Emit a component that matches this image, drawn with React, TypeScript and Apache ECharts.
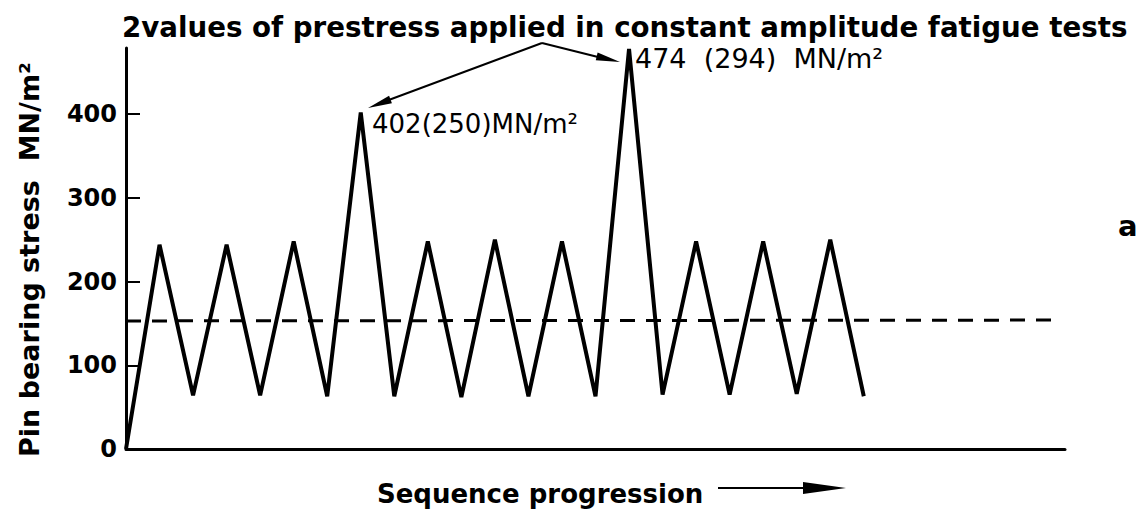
import React, { useEffect, useRef } from "react";
import * as echarts from "echarts";

// Sequence position (half-cycle index) and pin bearing stress (MN/m²)
const seqIndex = [0, 1, 2, 3, 4, 5, 6, 7, 8, 9, 10, 11, 12, 13, 14, 15, 16, 17, 18, 19, 20, 21, 22];
const stress = [0, 244, 64, 244, 64, 248, 63, 402, 63, 248, 62, 250, 63, 248, 63, 478, 65, 248, 65, 248, 66, 250, 63];

// Dashed reference (mean) level
const meanX = [0, 27.8];
const meanStress = [153, 154];

const yTicks = [0, 100, 200, 300, 400];
const yTickMarks = [100, 200, 300, 400];

const titleText = "2values of prestress applied in constant amplitude fatigue tests";
const yName = "Pin bearing stress  MN/m²";
const xName = "Sequence progression";
const note1 = "402(250)MN/m²";
const note2 = "474  (294)  MN/m²";
const panelLetter = "a";

const FONT = "DejaVu Sans";

function arrowHead(tx: number, ty: number, fx: number, fy: number, len: number, half: number) {
  const dx = tx - fx;
  const dy = ty - fy;
  const L = Math.hypot(dx, dy);
  const ux = dx / L;
  const uy = dy / L;
  const bx = tx - ux * len;
  const by = ty - uy * len;
  return [
    [tx, ty],
    [bx - uy * half, by + ux * half],
    [bx + uy * half, by - ux * half],
  ];
}

export default function App() {
  const ref = useRef<HTMLDivElement>(null);

  useEffect(() => {
    if (!ref.current) return;
    const chart = echarts.init(ref.current, undefined, { renderer: "svg" });

    const apex = [542, 43];
    const tipL = [368, 108];
    const tipR = [620, 62];

    const option: any = {
      animation: false,
      backgroundColor: "#ffffff",
      title: {
        text: titleText,
        left: 122,
        top: 13,
        padding: 0,
        textStyle: {
          fontFamily: FONT,
          fontSize: 27.7,
          lineHeight: 28,
          fontWeight: "bold",
          color: "#000",
        },
      },
      grid: { left: 126, right: 78, top: 48, bottom: 62 },
      xAxis: {
        type: "value",
        min: 0,
        max: 28,
        axisLine: { show: true, onZero: false, lineStyle: { color: "#000", width: 3 } },
        axisTick: { show: false },
        axisLabel: { show: false },
        splitLine: { show: false },
      },
      yAxis: {
        type: "value",
        min: 0,
        max: 479,
        name: yName,
        nameLocation: "middle",
        nameGap: 83,
        nameTextStyle: {
          fontFamily: FONT,
          fontSize: 27,
          fontWeight: "bold",
          color: "#000",
          padding: [0, 22, 0, 0],
        },
        axisLine: { show: true, lineStyle: { color: "#000", width: 3 } },
        axisTick: {
          show: true,
          inside: true,
          length: 14,
          customValues: yTickMarks,
          lineStyle: { color: "#000", width: 2 },
        },
        axisLabel: {
          customValues: yTicks,
          margin: 9,
          fontFamily: FONT,
          fontSize: 24,
          fontWeight: "bold",
          color: "#000",
        },
        splitLine: { show: false },
      },
      series: [
        {
          type: "line",
          data: seqIndex.map((x, i) => [x, stress[i]]),
          symbol: "none",
          clip: false,
          lineStyle: { color: "#000", width: 4 },
          z: 3,
        },
        {
          type: "line",
          data: meanX.map((x, i) => [x, meanStress[i]]),
          symbol: "none",
          clip: false,
          lineStyle: { color: "#000", width: 3, type: [15, 11] },
          z: 2,
        },
      ],
      graphic: [
        {
          type: "text",
          left: 372,
          top: 111,
          style: { text: note1, fontFamily: FONT, fontSize: 26, fill: "#000" },
        },
        {
          type: "text",
          left: 635,
          top: 45,
          style: { text: note2, fontFamily: FONT, fontSize: 27, fill: "#000" },
        },
        {
          type: "text",
          left: 1118,
          top: 211,
          style: { text: panelLetter, fontFamily: FONT, fontSize: 29, fontWeight: "bold", fill: "#000" },
        },
        {
          type: "text",
          left: 377,
          top: 481,
          style: { text: xName, fontFamily: FONT, fontSize: 26, fontWeight: "bold", fill: "#000" },
        },
        {
          type: "line",
          shape: { x1: 718, y1: 488, x2: 806, y2: 488 },
          style: { stroke: "#000", lineWidth: 2 },
        },
        {
          type: "polygon",
          shape: { points: arrowHead(846, 488, 718, 488, 43, 6) },
          style: { fill: "#000" },
        },
        {
          type: "line",
          shape: { x1: apex[0], y1: apex[1], x2: tipL[0] + 10, y2: tipL[1] - 4 },
          style: { stroke: "#000", lineWidth: 2 },
        },
        {
          type: "polygon",
          shape: { points: arrowHead(tipL[0], tipL[1], apex[0], apex[1], 24, 4) },
          style: { fill: "#000" },
        },
        {
          type: "line",
          shape: { x1: apex[0], y1: apex[1], x2: tipR[0] - 10, y2: tipR[1] - 2 },
          style: { stroke: "#000", lineWidth: 2 },
        },
        {
          type: "polygon",
          shape: { points: arrowHead(tipR[0], tipR[1], apex[0], apex[1], 24, 4) },
          style: { fill: "#000" },
        },
      ],
    };

    chart.setOption(option);
    return () => chart.dispose();
  }, []);

  return (
    <div
      ref={ref}
      style={{ position: "fixed", left: 0, top: 0, width: 1143, height: 511, background: "#fff" }}
    />
  );
}
